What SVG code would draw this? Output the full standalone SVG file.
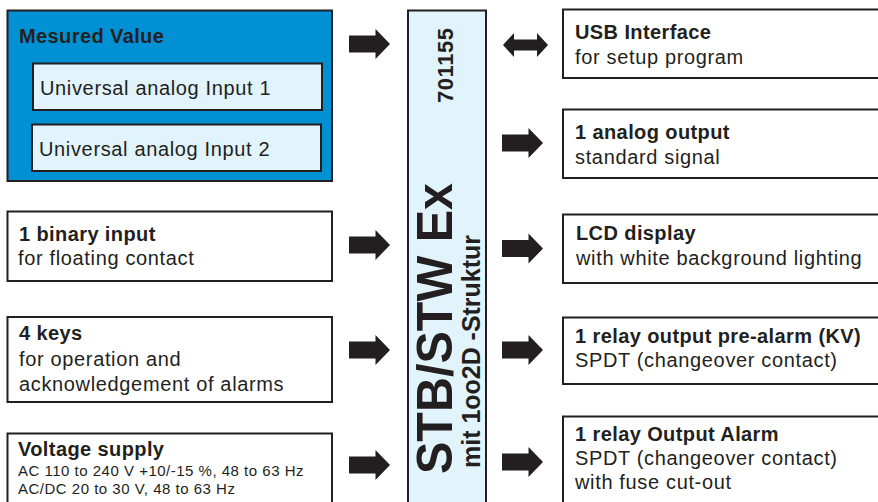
<svg xmlns="http://www.w3.org/2000/svg" xmlns:xlink="http://www.w3.org/1999/xlink" width="878" height="502" viewBox="0 0 878 502">
<style>
  .box { fill: #ffffff; stroke: #231f20; stroke-width: 2; }
  .blue { fill: #0091d5; stroke: #231f20; stroke-width: 2; }
  .light { fill: #e1f3fb; stroke: #231f20; stroke-width: 2; }
  text { font-family: "Liberation Sans", Arial, sans-serif; fill: #231f20; }
  .b { font-weight: bold; font-size: 20px; letter-spacing: 0.4px; }
  .r { font-size: 20px; letter-spacing: 0.65px; }
  .s { font-size: 15px; letter-spacing: 0.5px; }
  .arrow { fill: #231f20; }
</style>
<defs>
  <path id="arr" d="M0,-8.5 H26.5 V-15 L41,0 L26.5,15 V8.5 H0 Z"/>
</defs>
<rect width="878" height="502" fill="#ffffff"/>

<g id="measured-value">
  <rect class="blue" x="7.5" y="10.5" width="324.5" height="170.5"/>
  <text class="b" x="19" y="43">Mesured Value</text>
  <g id="input1">
    <rect class="light" x="33" y="63.5" width="289" height="46.5"/>
    <text class="r" x="40" y="95">Universal analog Input 1</text>
  </g>
  <g id="input2">
    <rect class="light" x="32" y="124.5" width="289" height="46.5"/>
    <text class="r" x="39" y="156">Universal analog Input 2</text>
  </g>
</g>

<g id="binary-input">
  <rect class="box" x="7.5" y="211.5" width="324.5" height="69.5"/>
  <text class="b" x="19" y="241">1 binary input</text>
  <text class="r" x="18" y="265">for floating contact</text>
</g>

<g id="keys">
  <rect class="box" x="7.5" y="317" width="324.5" height="85"/>
  <text class="b" x="19" y="340">4 keys</text>
  <text class="r" x="19" y="366">for operation and</text>
  <text class="r" x="19" y="391">acknowledgement of alarms</text>
</g>

<g id="voltage-supply">
  <rect class="box" x="7.5" y="433.5" width="324.5" height="80"/>
  <text class="b" x="18" y="456">Voltage supply</text>
  <text class="s" x="18" y="476">AC 110 to 240 V +10/-15 %, 48 to 63 Hz</text>
  <text class="s" x="18" y="494">AC/DC 20 to 30 V, 48 to 63 Hz</text>
</g>

<g id="device">
  <rect class="light" x="408" y="10.5" width="78" height="500"/>
  <text font-weight="bold" font-size="22" transform="translate(453,103) rotate(-90)" textLength="75">701155</text>
  <text font-weight="bold" font-size="50" transform="translate(452,474) rotate(-90)" textLength="291" lengthAdjust="spacingAndGlyphs">STB/STW Ex</text>
  <text font-weight="bold" font-size="25" transform="translate(480,468) rotate(-90)" textLength="233" lengthAdjust="spacingAndGlyphs">mit 1oo2D -Struktur</text>
</g>

<g id="usb">
  <rect class="box" x="563" y="9.5" width="330" height="68.5"/>
  <text class="b" x="575" y="39">USB Interface</text>
  <text class="r" x="575" y="64">for setup program</text>
</g>

<g id="analog-output">
  <rect class="box" x="563" y="109.5" width="330" height="68.5"/>
  <text class="b" x="575" y="139">1 analog output</text>
  <text class="r" x="575" y="164">standard signal</text>
</g>

<g id="lcd">
  <rect class="box" x="563" y="214.5" width="330" height="68.5"/>
  <text class="b" x="576" y="240">LCD display</text>
  <text class="r" x="576" y="265">with white background lighting</text>
</g>

<g id="relay-prealarm">
  <rect class="box" x="563" y="317.5" width="330" height="66.5"/>
  <text class="b" x="575" y="343">1 relay output pre-alarm (KV)</text>
  <text class="r" x="575" y="367">SPDT (changeover contact)</text>
</g>

<g id="relay-alarm">
  <rect class="box" x="563" y="416.5" width="330" height="100"/>
  <text class="b" x="575" y="441">1 relay Output Alarm</text>
  <text class="r" x="575" y="465">SPDT (changeover contact)</text>
  <text class="r" x="575" y="489">with fuse cut-out</text>
</g>

<g id="connectors" class="arrow">
  <use xlink:href="#arr" x="349" y="44"/>
  <use xlink:href="#arr" x="349" y="245"/>
  <use xlink:href="#arr" x="349" y="350"/>
  <use xlink:href="#arr" x="349" y="465"/>
  <path d="M503,45 L514,33 V39.5 H537 V33 L548,45 L537,57 V50.5 H514 V57 Z"/>
  <use xlink:href="#arr" x="502" y="143"/>
  <use xlink:href="#arr" x="502" y="248.5"/>
  <use xlink:href="#arr" x="502" y="350"/>
  <use xlink:href="#arr" x="502" y="462"/>
</g>
</svg>
